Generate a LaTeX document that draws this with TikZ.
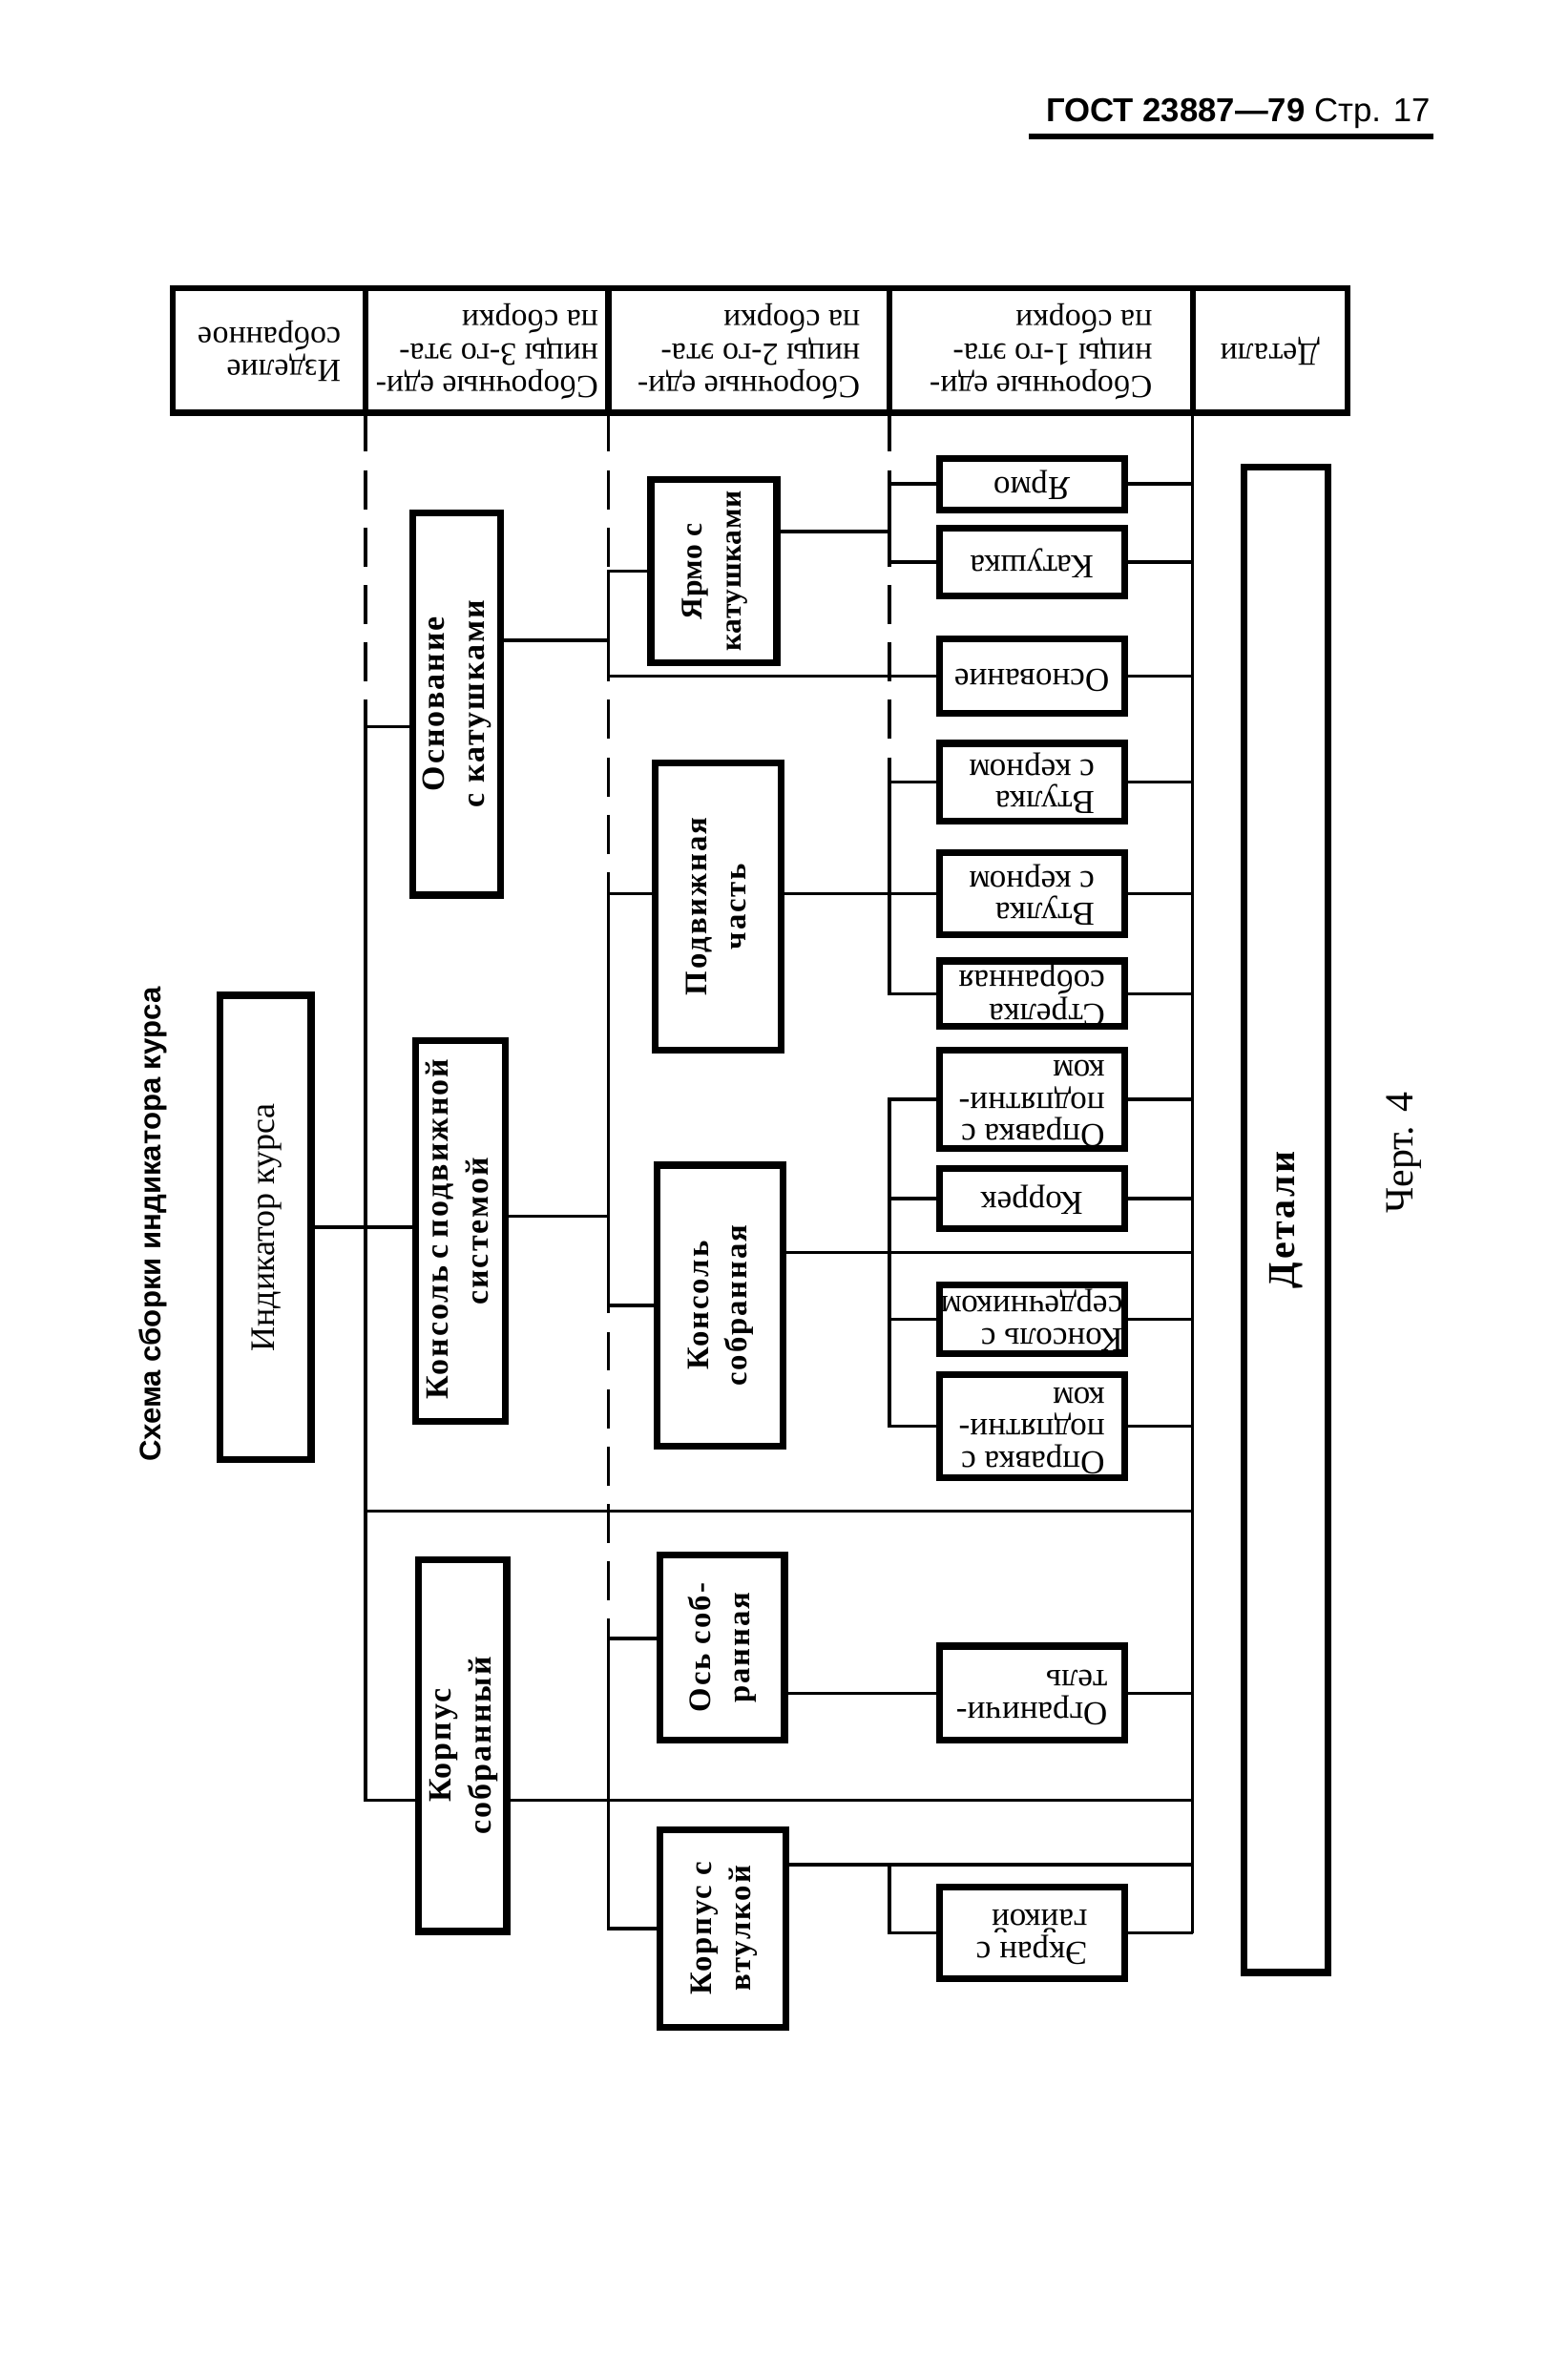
\documentclass[tikz,border=0pt]{standalone}
\usepackage{fontspec}
\setmainfont{Liberation Serif}
\setsansfont{Liberation Sans}
\newfontfamily\spacedfont[LetterSpace=6]{Liberation Serif}
\newfontfamily\closefont[LetterSpace=2]{Liberation Serif}
\usepackage{tikz}
\usetikzlibrary{calc}

\newcommand{\upsd}[1]{\rotatebox{180}{\begin{tabular}{@{}l@{}}#1\end{tabular}}}
\newcommand{\vup}[1]{\rotatebox{90}{\begin{tabular}{@{}c@{}}#1\end{tabular}}}

\begin{document}
\begin{tikzpicture}[
    x=0.14mm, y=-0.14mm,
    span/.style n args={4}{at={($(#1,#2)!.5!(#3,#4)$)},
      minimum width={(#3-#1)*0.14mm}, minimum height={(#4-#2)*0.14mm}},
    cell/.style={draw, line width=1.6pt, inner sep=0pt, outer sep=0pt,
      font=\fontsize{8.5}{8.6}\selectfont},
    partbox/.style={draw, line width=1.8pt, inner sep=0pt, outer sep=0pt,
      font=\fontsize{8.8}{8.4}\selectfont},
    unitbox/.style={draw, line width=1.8pt, inner sep=0pt, outer sep=0pt,
      font=\spacedfont\bfseries\fontsize{8.5}{10.5}\selectfont},
    stagebox/.style={unitbox, font=\spacedfont\bfseries\fontsize{8.2}{10.2}\selectfont},
    link/.style={line width=0.9pt},
    guide/.style={link, dash pattern=on 3.6mm off 1.7mm}
  ]
  \useasboundingbox (0,0) rectangle (1033,1568);

  % page head
  \node[font=\sffamily\fontsize{8.7}{10}\selectfont, anchor=base east, inner sep=0pt] (gost)
    at (943,80) {\textbf{ГОСТ 23887—79} Стр. 17};
  \draw[line width=1.6pt] (678,90) -- (945,90);

  % table head
  \node[cell, span={114}{190}{241}{272}] (hdA) {\upsd{Изделие\\собранное}};
  \node[cell, span={241}{190}{401}{272}] (hdB) {\upsd{Сборочные еди-\\ницы 3-го эта-\\па сборки}};
  \node[cell, span={401}{190}{586}{272}] (hdC) {\upsd{Сборочные еди-\\ницы 2-го эта-\\па сборки}};
  \node[cell, span={586}{190}{786}{272}] (hdD) {\upsd{Сборочные еди-\\ницы 1-го эта-\\па сборки}};
  \node[cell, span={786}{190}{888}{272}] (hdE) {\upsd{Детали}};
  \coordinate (l3) at (hdA.south east);
  \coordinate (l2) at (hdB.south east);
  \coordinate (l1) at (hdC.south east);
  \coordinate (ld) at (hdD.south east);

  \node[font=\sffamily\bfseries\fontsize{7.8}{9}\selectfont, rotate=90] (title) at (101,807)
    {Схема сборки индикатора курса};

  % product
  \node[partbox, span={145}{656}{205}{962}, font=\fontsize{9}{11}\selectfont] (indik)
    {\vup{Индикатор курса}};

  % units, stage 3
  \node[unitbox, span={272}{338}{330}{590}] (osnkat) {\vup{Основание\\с катушками}};
  \node[unitbox, span={274}{686}{333}{937}] (konpod)
    {\vup{\makebox[31mm][s]{Консоль с подвижной}\\системой}};
  \node[unitbox, span={276}{1028}{334}{1273}] (korsob) {\vup{Корпус\\собранный}};

  % units, stage 2
  \node[stagebox, span={429}{316}{512}{437}, font=\closefont\bfseries\fontsize{7.9}{10.2}\selectfont]
    (yarkat) {\vup{Ярмо с\\катушками}};
  \node[stagebox, span={432}{503}{515}{692}] (podv) {\vup{Подвижная\\часть}};
  \node[stagebox, span={433}{768}{516}{953}] (konsob) {\vup{Консоль\\собранная}};
  \node[stagebox, span={435}{1025}{517}{1147}] (ossob) {\vup{Ось соб-\\ранная}};
  \node[stagebox, span={435}{1206}{518}{1336}] (korvt) {\vup{Корпус с\\втулкой}};

  % units, stage 1
  \node[partbox, span={619}{302}{741}{336}] (yarmo) {\upsd{Ярмо}};
  \node[partbox, span={619}{348}{741}{393}] (katush) {\upsd{Катушка}};
  \node[partbox, span={619}{421}{741}{470}] (osnov) {\upsd{Основание}};
  \node[partbox, span={619}{490}{741}{541}] (vtulA) {\upsd{Втулка\\с керном}};
  \node[partbox, span={619}{562}{741}{616}] (vtulB) {\upsd{Втулка\\с керном}};
  \node[partbox, span={619}{634}{741}{676}] (strel) {\upsd{Стрелка\\собранная}};
  \node[partbox, span={619}{692}{741}{757}] (oprA) {\upsd{Оправка с\\подпятни-\\ком}};
  \node[partbox, span={619}{770}{741}{810}] (korrek) {\upsd{Коррек}};
  \node[partbox, span={619}{847}{741}{892}] (konserd) {\upsd{Консоль с\\сердечником}};
  \node[partbox, span={619}{906}{741}{974}] (oprB) {\upsd{Оправка с\\подпятни-\\ком}};
  \node[partbox, span={619}{1085}{741}{1147}] (ogran) {\upsd{Ограничи-\\тель}};
  \node[partbox, span={619}{1244}{741}{1304}] (ekran) {\upsd{Экран с\\гайкой}};

  % details
  \node[unitbox, span={820}{308}{875}{1300}, font=\spacedfont\bfseries\fontsize{10}{12}\selectfont]
    (detali) {\rotatebox{90}{Детали}};
  \node[rotate=90, font=\fontsize{10.5}{12}\selectfont] (chert) at (925,760) {Черт. 4};

  % stage 3 spine
  \coordinate (osnL) at ($(osnkat.west)+(0,15)$);
  \coordinate (ks) at ($(korsob.west)+(0,36)$);
  \draw[guide] (l3) -- (l3 |- osnL);
  \draw[link] (osnL) -| (l3 |- ks) -- (ks);
  \draw[link] (indik.east) -- (indik.east -| konpod.west);
  \draw[link] (ks -| korsob.east) -- (ks -| ld);
  \coordinate (sep) at (241,996);
  \draw[link] (sep) -- (sep -| ld);

  % stage 2 spine
  \coordinate (osnR) at ($(osnkat.east)+(0,-42)$);
  \coordinate (kpR) at ($(konpod.east)+(0,-10)$);
  \coordinate (osL) at ($(ossob.west)+(0,-6)$);
  \draw[guide] (l2) -- (l2 |- korvt.west);
  \draw[link] (yarkat.west) -| (l2 |- osnov.west) -- (osnov.west);
  \draw[link] (osnR) -- (osnR -| l2);
  \draw[link] (podv.west |- vtulB.west) -| (l2 |- konsob.west) -- (konsob.west);
  \draw[link] (kpR) -- (kpR -| l2);
  \draw[link] (osL) -| (l2 |- korvt.west) -- (korvt.west);

  % stage 1 spine
  \coordinate (ykR) at ($(yarkat.east)+(0,-26)$);
  \coordinate (ksR) at ($(konsob.east)+(0,-35)$);
  \coordinate (kvR) at ($(korvt.east)+(0,-42)$);
  \draw[guide] (l1) -- (l1 |- vtulA.west);
  \draw[link] (yarmo.west) -| (l1 |- katush.west) -- (katush.west);
  \draw[link] (ykR) -- (ykR -| l1);
  \draw[link] (vtulA.west) -| (l1 |- strel.west) -- (strel.west);
  \draw[link] (podv.east |- vtulB.west) -- (vtulB.west);
  \draw[link] (oprA.west) -| (l1 |- oprB.west) -- (oprB.west);
  \draw[link] (korrek.west) -- (korrek.west -| l1);
  \draw[link] (konserd.west) -- (konserd.west -| l1);
  \draw[link] (ksR) -- (ksR -| ld);
  \draw[link] (ossob.east |- ogran.west) -- (ogran.west);
  \draw[link] (kvR) -- (kvR -| ld);
  \draw[link] (kvR -| l1) |- (ekran.west);

  % details line
  \draw[link] (ld) -- (ld |- ekran.east);
  \foreach \p in {yarmo,katush,osnov,vtulA,vtulB,strel,oprA,korrek,konserd,oprB,ogran,ekran}
    \draw[link] (\p.east) -- (\p.east -| ld);
\end{tikzpicture}
\end{document}
